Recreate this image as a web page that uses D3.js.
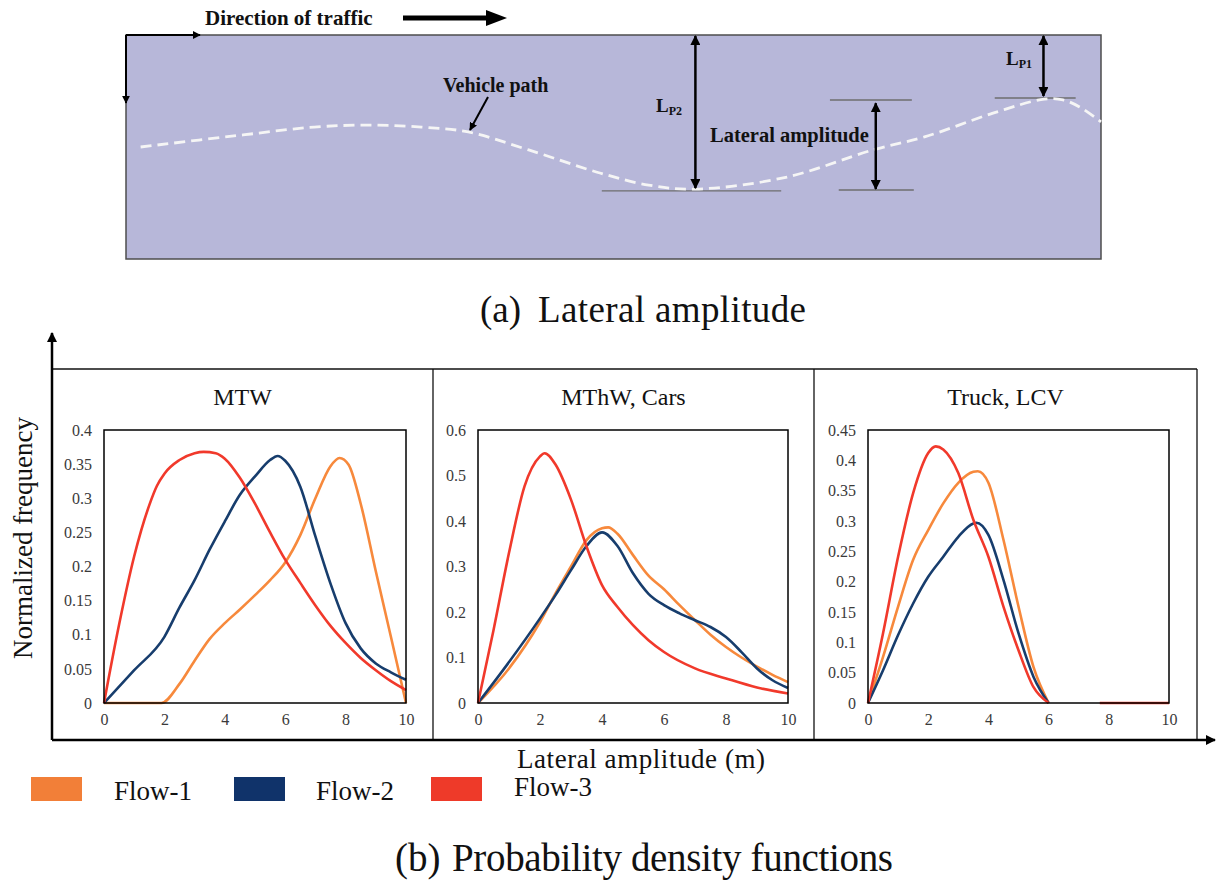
<!DOCTYPE html>
<html lang="en">
<head>
<meta charset="UTF-8">
<title>Lateral amplitude and probability density functions</title>
<script src="https://d3js.org/d3.v7.min.js"></script>
<style>
  body { margin: 0; background: #fff; }
  svg { display: block; font-family: "Liberation Serif", "Times New Roman", serif; }
</style>
</head>
<body>
<svg id="chart" width="1217" height="885"></svg>
<script>
// ---------- data: panel (a) schematic, fractions of road length / road width ----------
var pathStation = [0.015, 0.120, 0.193, 0.251, 0.303, 0.351, 0.413, 0.486, 0.536, 0.584, 0.678, 0.766, 0.819, 0.890, 0.942, 0.961, 0.978, 1.000];
var pathOffset  = [0.500, 0.446, 0.411, 0.402, 0.411, 0.433, 0.513, 0.616, 0.670, 0.688, 0.634, 0.513, 0.455, 0.348, 0.286, 0.290, 0.321, 0.388];

// ---------- data: panel (b) ----------
var panelNames = ["MTW", "MThW, Cars", "Truck, LCV"];
var yMax = [0.4, 0.6, 0.45];
var yStep = [0.05, 0.1, 0.05];
var xTicks = [0, 2, 4, 6, 8, 10];
var flowNames = ["Flow-1", "Flow-2", "Flow-3"];
var flowColors = ["#f7893c", "#173d6d", "#f1392b"];
var legendColors = ["#f27f38", "#10336a", "#ee3a29"];

// [lateral amplitude (m), normalized frequency]
var mtwFlow1 = [[0,0],[1,0],[1.9,0],[2.5,0.028],[3,0.062],[3.5,0.094],[4,0.117],[4.5,0.137],[5,0.158],[5.5,0.18],[6,0.206],[6.5,0.246],[7,0.30],[7.5,0.347],[7.8,0.359],[8.1,0.349],[8.5,0.292],[9,0.193],[9.5,0.097],[10,0]];
var mtwFlow2 = [[0,0],[1,0.048],[2,0.097],[2.5,0.14],[3,0.18],[3.5,0.225],[4,0.266],[4.5,0.305],[5,0.332],[5.5,0.356],[5.75,0.362],[6,0.355],[6.5,0.317],[7,0.244],[7.5,0.175],[8,0.117],[8.5,0.08],[9,0.058],[9.5,0.045],[10,0.034]];
var mtwFlow3 = [[0,0],[0.5,0.115],[1,0.215],[1.5,0.29],[1.75,0.318],[2,0.336],[2.5,0.356],[3,0.366],[3.3,0.368],[3.7,0.366],[4,0.358],[4.5,0.33],[5,0.292],[5.5,0.25],[6,0.21],[6.5,0.176],[7,0.143],[7.5,0.113],[8,0.088],[8.5,0.066],[9,0.048],[9.5,0.032],[10,0.019]];

var carFlow1 = [[0,0],[1,0.076],[2,0.178],[2.5,0.241],[3,0.30],[3.5,0.358],[4,0.384],[4.2,0.386],[4.5,0.372],[5,0.325],[5.5,0.28],[6,0.25],[6.5,0.215],[7,0.182],[7.5,0.15],[8,0.123],[8.5,0.1],[9,0.08],[9.5,0.062],[10,0.046]];
var carFlow2 = [[0,0],[1,0.09],[2,0.186],[2.5,0.237],[3,0.292],[3.5,0.345],[4,0.375],[4.5,0.345],[5,0.285],[5.5,0.24],[6,0.215],[6.5,0.197],[7,0.182],[7.5,0.167],[8,0.145],[8.5,0.112],[9,0.076],[9.5,0.05],[10,0.033]];
var carFlow3 = [[0,0],[0.5,0.16],[1,0.33],[1.5,0.476],[2,0.542],[2.15,0.549],[2.5,0.524],[3,0.447],[3.5,0.344],[4,0.259],[4.5,0.211],[5,0.171],[5.5,0.138],[6,0.112],[7,0.076],[8,0.054],[9,0.034],[10,0.021]];

var truckFlow1 = [[0,0],[0.5,0.076],[1,0.159],[1.5,0.236],[2,0.285],[2.5,0.329],[3,0.363],[3.5,0.381],[3.65,0.382],[4,0.363],[4.5,0.269],[5,0.159],[5.5,0.059],[6,0]];
var truckFlow2 = [[0,0],[0.5,0.054],[1,0.112],[1.5,0.164],[2,0.208],[2.5,0.241],[3,0.274],[3.5,0.296],[3.6,0.297],[4,0.277],[4.5,0.203],[5,0.115],[5.5,0.043],[6,0]];
var truckFlow3 = [[0,0],[0.5,0.115],[1,0.241],[1.5,0.346],[2,0.412],[2.25,0.423],[2.5,0.418],[3,0.379],[3.5,0.302],[4,0.241],[4.5,0.159],[5,0.087],[5.5,0.026],[6,0],[7,null],[7.7,0],[8,0],[9,0],[10,0]];

var panelSeries = [
    [mtwFlow1, mtwFlow2, mtwFlow3],
    [carFlow1, carFlow2, carFlow3],
    [truckFlow1, truckFlow2, truckFlow3]
];

var svg = d3.select("#chart");
var defs = svg.append("defs");

function addMarker(id, size) {
    defs.append("marker")
        .attr("id", id)
        .attr("viewBox", "0 0 10 10")
        .attr("refX", 9)
        .attr("refY", 5)
        .attr("markerWidth", size)
        .attr("markerHeight", size)
        .attr("markerUnits", "userSpaceOnUse")
        .attr("orient", "auto-start-reverse")
        .append("path")
        .attr("d", "M0,0L10,5L0,10z")
        .attr("fill", "#000");
}
addMarker("head", 10);
addMarker("headSmall", 8);

// ================= (a) Lateral amplitude =================
var roadX = d3.scaleLinear().domain([0, 1]).range([126, 1101]);
var roadY = d3.scaleLinear().domain([0, 1]).range([35, 259]);

var gA = svg.append("g");

gA.append("rect")
    .attr("x", roadX(0))
    .attr("y", roadY(0))
    .attr("width", roadX(1) - roadX(0))
    .attr("height", roadY(1) - roadY(0))
    .attr("fill", "#b7b7d9")
    .attr("stroke", "#4d4d4d")
    .attr("stroke-width", 1.5);

// direction of traffic
gA.append("text")
    .attr("x", 205).attr("y", 25)
    .attr("font-size", 21).attr("font-weight", "bold").attr("fill", "#111")
    .text("Direction of traffic");
gA.append("line")
    .attr("x1", 403).attr("y1", 18).attr("x2", 488).attr("y2", 18)
    .attr("stroke", "#000").attr("stroke-width", 5);
gA.append("path")
    .attr("d", "M486,10L507,18L486,26z")
    .attr("fill", "#000");

// reference corner arrows
gA.append("line")
    .attr("x1", roadX(0)).attr("y1", roadY(0)).attr("x2", 200).attr("y2", roadY(0))
    .attr("stroke", "#000").attr("stroke-width", 2)
    .attr("marker-end", "url(#headSmall)");
gA.append("line")
    .attr("x1", roadX(0)).attr("y1", roadY(0)).attr("x2", roadX(0)).attr("y2", 103)
    .attr("stroke", "#000").attr("stroke-width", 2)
    .attr("marker-end", "url(#headSmall)");

// grey reference lines
var refLines = [
    [0.488, 0.672, 0.696],
    [0.722, 0.806, 0.290],
    [0.731, 0.808, 0.692],
    [0.891, 0.974, 0.281]
];
gA.selectAll(".refline")
    .data(refLines)
    .enter()
    .append("line")
    .attr("class", "refline")
    .attr("x1", function (d) { return roadX(d[0]); })
    .attr("x2", function (d) { return roadX(d[1]); })
    .attr("y1", function (d) { return roadY(d[2]); })
    .attr("y2", function (d) { return roadY(d[2]); })
    .attr("stroke", "#6e6e6e")
    .attr("stroke-width", 1.4);

// vehicle path
var pathLine = d3.line()
    .x(function (d, i) { return roadX(pathStation[i]); })
    .y(function (d, i) { return roadY(pathOffset[i]); })
    .curve(d3.curveCatmullRom.alpha(0.5));
gA.append("path")
    .attr("d", pathLine(pathStation))
    .attr("fill", "none")
    .attr("stroke", "#f5f5f5")
    .attr("stroke-width", 2.8)
    .attr("stroke-dasharray", "11,6");

// double arrows
var dblArrows = [
    [0.584, 0.0, 0.688],
    [0.769, 0.300, 0.692],
    [0.941, 0.0, 0.277]
];
gA.selectAll(".dbl")
    .data(dblArrows)
    .enter()
    .append("line")
    .attr("class", "dbl")
    .attr("x1", function (d) { return roadX(d[0]); })
    .attr("x2", function (d) { return roadX(d[0]); })
    .attr("y1", function (d) { return roadY(d[1]) + 1; })
    .attr("y2", function (d) { return roadY(d[2]) - 1; })
    .attr("stroke", "#000")
    .attr("stroke-width", 2.5)
    .attr("marker-start", "url(#head)")
    .attr("marker-end", "url(#head)");

// vehicle path pointer
gA.append("line")
    .attr("x1", 488).attr("y1", 97).attr("x2", 470).attr("y2", 130)
    .attr("stroke", "#000").attr("stroke-width", 2)
    .attr("marker-end", "url(#headSmall)");

gA.append("text")
    .attr("x", 443).attr("y", 92)
    .attr("font-size", 20).attr("font-weight", "bold").attr("fill", "#111")
    .text("Vehicle path");
gA.append("text")
    .attr("x", 710).attr("y", 142)
    .attr("font-size", 20.5).attr("font-weight", "bold").attr("fill", "#111")
    .text("Lateral amplitude");

function subLabel(x, y, sub) {
    var t = gA.append("text")
        .attr("x", x).attr("y", y)
        .attr("font-weight", "bold").attr("fill", "#111");
    t.append("tspan").attr("font-size", 19).text("L");
    t.append("tspan").attr("font-size", 12).attr("dy", 3).text(sub);
}
subLabel(656, 112, "P2");
subLabel(1006, 65, "P1");

// caption (a)
svg.append("text").attr("x", 480).attr("y", 322).attr("font-size", 37).attr("fill", "#111").text("(a)");
svg.append("text").attr("x", 538).attr("y", 322).attr("font-size", 37).attr("fill", "#111")
    .attr("textLength", 268).text("Lateral amplitude");

// ================= (b) Probability density functions =================
var frameTop = 369, frameBottom = 740;
var panelEdges = [52, 433, 814, 1197];
var plotTop = 430, plotBottom = 703;
var plotLeft = [104, 478, 868];
var plotRight = [406, 788, 1169];

var gB = svg.append("g");

panelNames.forEach(function (name, i) {
    var x = d3.scaleLinear().domain([0, 10]).range([plotLeft[i], plotRight[i]]);
    var y = d3.scaleLinear().domain([0, yMax[i]]).range([plotBottom, plotTop]);
    var g = gB.append("g");

    g.append("text")
        .attr("x", (panelEdges[i] + panelEdges[i + 1]) / 2)
        .attr("y", 405)
        .attr("text-anchor", "middle")
        .attr("font-size", 24)
        .attr("fill", "#111")
        .text(name);

    var line = d3.line()
        .defined(function (d) { return d[1] !== null; })
        .x(function (d) { return x(d[0]); })
        .y(function (d) { return y(d[1]); })
        .curve(d3.curveMonotoneX);

    g.selectAll(".flow")
        .data(panelSeries[i])
        .enter()
        .append("path")
        .attr("class", "flow")
        .attr("d", line)
        .attr("fill", "none")
        .attr("stroke", function (d, k) { return flowColors[k]; })
        .attr("stroke-width", 2.6)
        .attr("stroke-linejoin", "round");

    g.append("rect")
        .attr("x", plotLeft[i])
        .attr("y", plotTop)
        .attr("width", plotRight[i] - plotLeft[i])
        .attr("height", plotBottom - plotTop)
        .attr("fill", "none")
        .attr("stroke", "#000")
        .attr("stroke-width", 1.5);

    var yTicks = d3.range(0, Math.round(yMax[i] / yStep[i]) + 1).map(function (k) { return k * yStep[i]; });
    var fmt = d3.format(".2~f");

    var ay = g.append("g")
        .attr("transform", "translate(" + plotLeft[i] + ",0)")
        .call(d3.axisLeft(y).tickValues(yTicks).tickSize(0).tickPadding(12).tickFormat(fmt));
    ay.select(".domain").remove();

    var ax = g.append("g")
        .attr("transform", "translate(0," + plotBottom + ")")
        .call(d3.axisBottom(x).tickValues(xTicks).tickSize(0).tickPadding(11));
    ax.select(".domain").remove();

    g.selectAll(".tick text")
        .attr("font-family", "Liberation Serif, Times New Roman, serif")
        .attr("font-size", 16)
        .attr("fill", "#3a3a3a");
});

// panel frame
gB.append("line")
    .attr("x1", panelEdges[0]).attr("x2", panelEdges[3])
    .attr("y1", frameTop).attr("y2", frameTop)
    .attr("stroke", "#111").attr("stroke-width", 1.5);
gB.selectAll(".divider")
    .data(panelEdges.slice(1))
    .enter()
    .append("line")
    .attr("class", "divider")
    .attr("x1", function (d) { return d; })
    .attr("x2", function (d) { return d; })
    .attr("y1", frameTop)
    .attr("y2", frameBottom)
    .attr("stroke", "#111")
    .attr("stroke-width", 1.3);

// main axes with arrows
gB.append("line")
    .attr("x1", panelEdges[0]).attr("y1", frameBottom)
    .attr("x2", panelEdges[0]).attr("y2", 333)
    .attr("stroke", "#000").attr("stroke-width", 2.5)
    .attr("marker-end", "url(#head)");
gB.append("line")
    .attr("x1", panelEdges[0]).attr("y1", frameBottom)
    .attr("x2", 1215).attr("y2", frameBottom)
    .attr("stroke", "#000").attr("stroke-width", 2.5)
    .attr("marker-end", "url(#head)");

gB.append("text")
    .attr("transform", "translate(32,538) rotate(-90)")
    .attr("text-anchor", "middle")
    .attr("font-size", 27)
    .attr("fill", "#111")
    .text("Normalized frequency");

gB.append("text")
    .attr("x", 641)
    .attr("y", 768)
    .attr("text-anchor", "middle")
    .attr("font-size", 27)
    .attr("fill", "#111")
    .attr("textLength", 248)
    .text("Lateral amplitude (m)");

// legend
var legendSquareX = [31, 234, 431];
var legendTextX = [114, 316, 514];
var legendTextY = [800, 800, 796];
var legend = gB.selectAll(".legendEntry")
    .data(flowNames)
    .enter()
    .append("g")
    .attr("class", "legendEntry");
legend.append("rect")
    .attr("x", function (d, i) { return legendSquareX[i]; })
    .attr("y", 777)
    .attr("width", 51)
    .attr("height", 24)
    .attr("fill", function (d, i) { return legendColors[i]; });
legend.append("text")
    .attr("x", function (d, i) { return legendTextX[i]; })
    .attr("y", function (d, i) { return legendTextY[i]; })
    .attr("font-size", 27)
    .attr("fill", "#111")
    .text(function (d) { return d; });

// caption (b)
svg.append("text").attr("x", 395).attr("y", 871).attr("font-size", 39).attr("fill", "#111").text("(b)");
svg.append("text").attr("x", 452).attr("y", 871).attr("font-size", 39).attr("fill", "#111")
    .attr("textLength", 441).text("Probability density functions");
</script>
</body>
</html>
